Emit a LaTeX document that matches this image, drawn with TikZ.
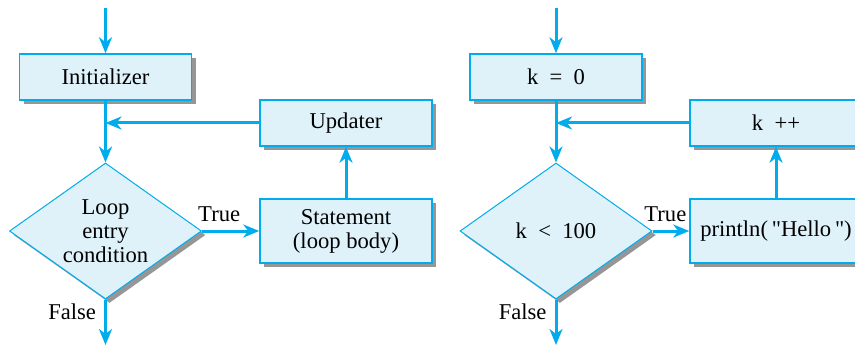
\documentclass[tikz,border=0pt]{standalone}
\usepackage{fontspec}
\setmainfont{Liberation Serif}
\newfontfamily\codefont{Liberation Serif}
\usetikzlibrary{arrows.meta, positioning, shapes.geometric, shadows}
\definecolor{flowcyan}{RGB}{0,172,236}
\definecolor{boxfill}{RGB}{223,242,250}
\definecolor{shadegray}{RGB}{150,150,150}

\begin{document}
\begin{tikzpicture}[x=0.5pt, y=-0.5pt,
  every node/.style={font=\fontsize{11.3}{12}\selectfont},
  boxshadow/.style={drop shadow={shadow xshift=2pt, shadow yshift=-2pt, fill=shadegray, opacity=1}},
  stepbox/.style={rectangle, draw=flowcyan, line width=0.75pt, fill=boxfill, boxshadow,
    minimum width=86pt, minimum height=23pt, inner sep=0pt, align=center},
  tallbox/.style={stepbox, minimum height=32pt},
  testbox/.style={diamond, shape aspect=1.41, draw=flowcyan, line width=0.5pt, fill=boxfill, boxshadow,
    minimum width=96pt, minimum height=68pt, inner sep=0pt, align=center},
  flow/.style={draw=flowcyan, line width=1.5pt, -{Stealth[length=8pt, width=6.5pt, inset=2.5pt]}},
  lbl/.style={text=black, inner sep=4pt}]
  \useasboundingbox (0,0) rectangle (855,347);
  \clip (0,0) rectangle (855,347);
  % general loop
  \node[stepbox] (init) at (105.5,77) {Initializer};
  \node[stepbox] (upd) at (346,123) {Updater};
  \node[testbox] (cond) at (105.5,231) {Loop\\entry\\condition};
  \node[tallbox] (stmt) at (346,231) {Statement\\(loop body)};
  \coordinate (in1) at (105.5,8);
  \coordinate (out1) at (105.5,345);
  \coordinate (join1) at (init.south |- upd.west);
  \draw[flow] (in1) -- (init);
  \draw[flow] (init) -- (cond);
  \draw[flow] (upd) -- (join1);
  \draw[flow] (cond) -- node[lbl, pos=0.3, above] {True} (stmt);
  \draw[flow] (stmt) -- (upd);
  \draw[flow] (cond) -- node[lbl, pos=0.26, left] {False} (out1);
  % counting loop
  \node[stepbox] (kzero) at (556,77) {k\enspace=\enspace0};
  \node[stepbox] (kinc) at (776,123) {k\enspace++};
  \node[testbox] (kcond) at (556,231) {k\enspace<\enspace100};
  \node[tallbox] (hello) at (776,231) {\codefont println(\,"Hello\,")};
  \coordinate (in2) at (556,8);
  \coordinate (out2) at (556,345);
  \coordinate (join2) at (kzero.south |- kinc.west);
  \draw[flow] (in2) -- (kzero);
  \draw[flow] (kzero) -- (kcond);
  \draw[flow] (kinc) -- (join2);
  \draw[flow] (kcond) -- node[lbl, pos=0.35, above] {True} (hello);
  \draw[flow] (hello) -- (kinc);
  \draw[flow] (kcond) -- node[lbl, pos=0.26, left] {False} (out2);
\end{tikzpicture}
\end{document}
